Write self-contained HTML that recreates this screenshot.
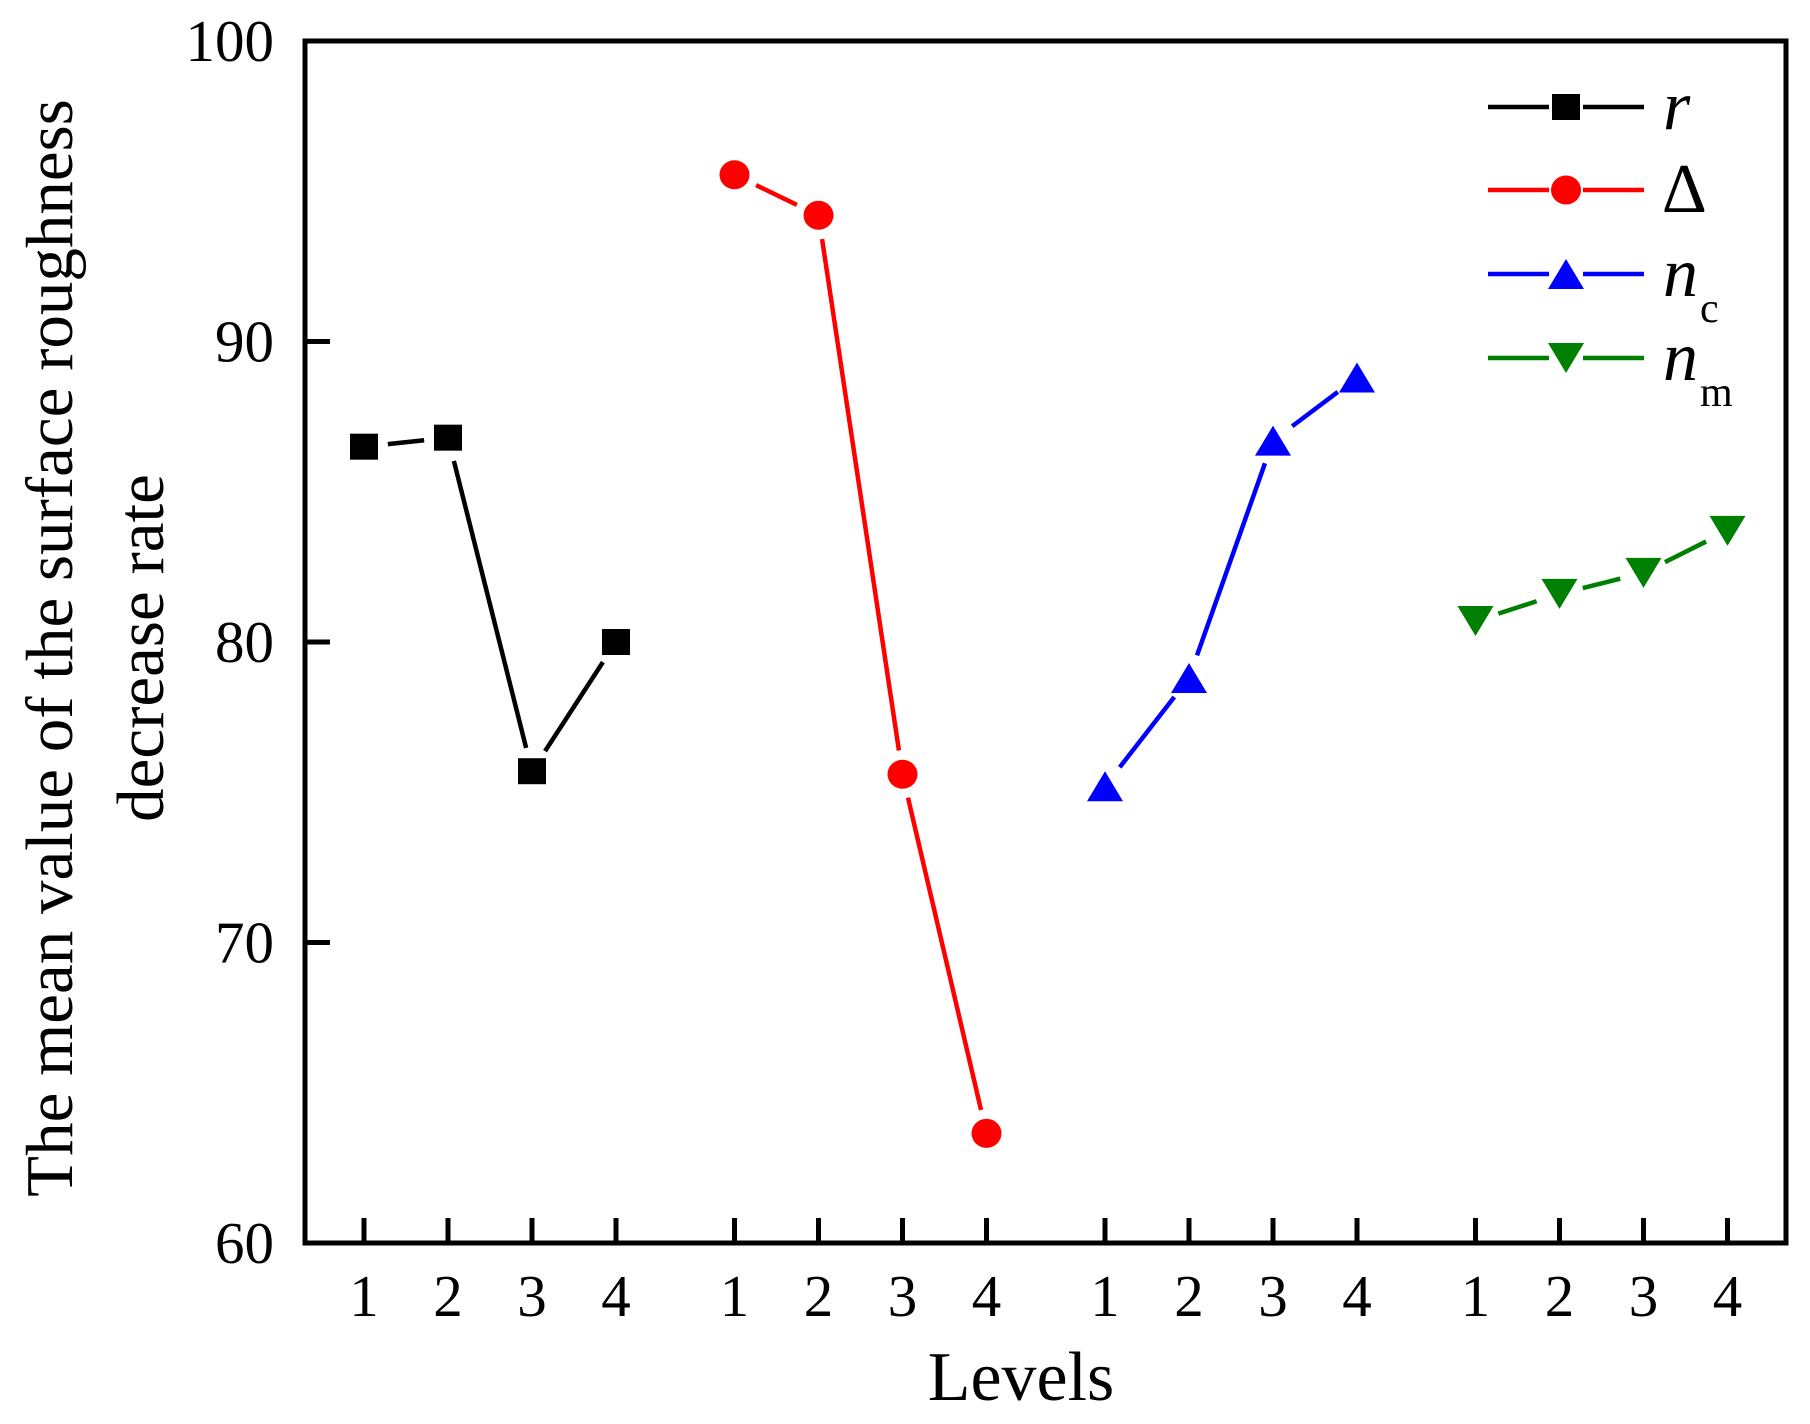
<!DOCTYPE html>
<html><head><meta charset="utf-8"><style>
html,body{margin:0;padding:0;background:#fff;}
svg{display:block;font-family:"Liberation Serif",serif;}
</style></head><body>
<svg id="chart" width="1810" height="1424" viewBox="0 0 1810 1424" xmlns="http://www.w3.org/2000/svg">
<g id="axes"></g>
<g id="series"></g>
<g id="legend"></g>
<text x="1021" y="1400" font-size="70" text-anchor="middle">Levels</text>
<text transform="translate(72,648) rotate(-90)" font-size="67" text-anchor="middle">The mean value of the surface roughness</text>
<text transform="translate(163,648) rotate(-90)" font-size="67" text-anchor="middle">decrease rate</text>
</svg>
<script>
const factors = ["r", "delta", "nc", "nm"];
const levels = [1, 2, 3, 4];
const rValues = [86.5, 86.8, 75.7, 80.0];
const deltaValues = [95.55, 94.2, 75.6, 63.65];
const ncValues = [75.2, 78.8, 86.7, 88.8];
const nmValues = [80.7, 81.6, 82.3, 83.7];
const yTicks = [60, 70, 80, 90, 100];

const NS = "http://www.w3.org/2000/svg";
const L = 305, R = 1786, T = 41, B = 1243;
function y(v){ return B - (v - 60) / 40 * (B - T); }
function x(g, lvl){ return 364 + g * 370.5 + (lvl - 1) * 84; }
function mk(tag, attrs, parent){
  const e = document.createElementNS(NS, tag);
  for (const k in attrs) e.setAttribute(k, attrs[k]);
  parent.appendChild(e); return e;
}
const axes = document.getElementById('axes');
const frame = mk('rect', {x:L, y:T, width:R-L, height:B-T, fill:'none', stroke:'#000', 'stroke-width':5}, axes);


yTicks.forEach(v => {
  const t = mk('line', {x1:L, x2:L+25, y1:y(v), y2:y(v), stroke:'#000', 'stroke-width':5}, axes);
  
  
  const lb = mk('text', {x:274, y:y(v)+20, 'font-size':59, 'text-anchor':'end'}, axes);
  lb.textContent = v;
  
  
});
factors.forEach((f, g) => {
  levels.forEach(l => {
    const t = mk('line', {x1:x(g,l), x2:x(g,l), y1:B, y2:B-25, stroke:'#000', 'stroke-width':5}, axes);
    
    
    const lb = mk('text', {x:x(g,l), y:1316, 'font-size':59, 'text-anchor':'middle'}, axes);
    lb.textContent = l;
    
    
  });
});
function marker(type, cx, cy, color, parent){
  let e;
  if (type === 'square') e = mk('rect', {x:cx-14, y:cy-13, width:28, height:26, fill:color}, parent);
  else if (type === 'circle') e = mk('ellipse', {cx:cx, cy:cy, rx:15, ry:14.5, fill:color}, parent);
  else if (type === 'up') e = mk('polygon', {points:`${cx},${cy-15} ${cx-18},${cy+15} ${cx+18},${cy+15}`, fill:color}, parent);
  else e = mk('polygon', {points:`${cx-18},${cy-15} ${cx+18},${cy-15} ${cx},${cy+15}`, fill:color}, parent);
  return e;
}
const seriesDefs = [
  {name:'r', vals:rValues, color:'#000', type:'square'},
  {name:'delta', vals:deltaValues, color:'#ff0000', type:'circle'},
  {name:'nc', vals:ncValues, color:'#0000ff', type:'up'},
  {name:'nm', vals:nmValues, color:'#008000', type:'down'}
];
const sg = document.getElementById('series');
seriesDefs.forEach((s, g) => {
  const grp = mk('g', {}, sg);
  
  
  for (let i = 0; i < s.vals.length - 1; i++){
    const x1 = x(g, i+1), y1 = y(s.vals[i]), x2 = x(g, i+2), y2 = y(s.vals[i+1]);
    const d = Math.hypot(x2-x1, y2-y1), gap = 24;
    if (d > 2*gap){
      const ux = (x2-x1)/d, uy = (y2-y1)/d;
      const ln = mk('line', {x1:x1+ux*gap, y1:y1+uy*gap, x2:x2-ux*gap, y2:y2-uy*gap, stroke:s.color, 'stroke-width':4.5}, grp);
      
      
    }
  }
  s.vals.forEach((v, i) => {
    const m = marker(s.type, x(g, i+1), y(v), s.color, grp);
    
    
  });
});
const lg = document.getElementById('legend');
const legendY = [107, 190, 274, 358];
seriesDefs.forEach((s, i) => {
  const e = mk('g', {}, lg);
  
  
  const ly = legendY[i];
  mk('line', {x1:1488, x2:1549, y1:ly, y2:ly, stroke:s.color, 'stroke-width':4.5}, e);
  mk('line', {x1:1583, x2:1644, y1:ly, y2:ly, stroke:s.color, 'stroke-width':4.5}, e);
  marker(s.type, 1566, ly, s.color, e);
});
function legText(txt, sub, ly, data){
  const t = mk('text', {x:1663, y:ly+22, 'font-size':70, 'font-style':'italic'}, lg);
  t.textContent = txt;
  
  
  if (sub){
    const s = mk('text', {x:1700, y:ly+48, 'font-size':42}, lg);
    s.textContent = sub;
    
    
  }
}
legText('r', '', 107, 'legend-label-r');
legText('\u2206', '', 190, 'legend-label-delta');
legText('n', 'c', 274, 'legend-label-nc');
legText('n', 'm', 358, 'legend-label-nm');
</script>
</body></html>
